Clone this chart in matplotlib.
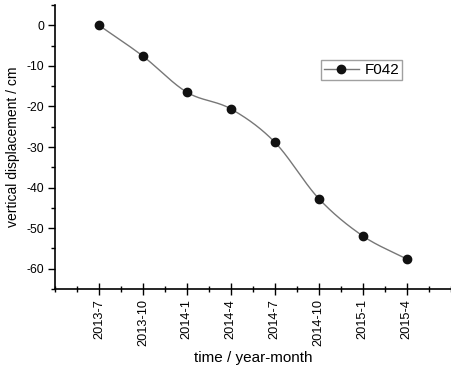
import numpy as np
import matplotlib
matplotlib.use("Agg")
import matplotlib.pyplot as plt
from matplotlib.ticker import MultipleLocator

plt.rcParams['font.family'] = ['Liberation Sans', 'DejaVu Sans']
plt.rcParams['axes.unicode_minus'] = False

months = ["2013-7", "2013-10", "2014-1", "2014-4", "2014-7", "2014-10", "2015-1", "2015-4"]
displacement = [0.0, -7.6, -16.5, -20.6, -28.8, -42.7, -51.9, -57.6]
series_name = "F042"


def cardinal_spline(x, y, n_per=60, tension=0.0):
    x = np.asarray(x, float); y = np.asarray(y, float)
    n = len(x)
    m = np.zeros(n)
    m[0] = (y[1] - y[0]) / (x[1] - x[0])
    m[-1] = (y[-1] - y[-2]) / (x[-1] - x[-2])
    for i in range(1, n - 1):
        m[i] = (1 - tension) * (y[i + 1] - y[i - 1]) / (x[i + 1] - x[i - 1])
    xs_all, ys_all = [], []
    for i in range(n - 1):
        h = x[i + 1] - x[i]
        t = np.linspace(0, 1, n_per)
        h00 = 2 * t ** 3 - 3 * t ** 2 + 1
        h10 = t ** 3 - 2 * t ** 2 + t
        h01 = -2 * t ** 3 + 3 * t ** 2
        h11 = t ** 3 - t ** 2
        xs_all.append(x[i] + t * h)
        ys_all.append(h00 * y[i] + h10 * h * m[i] + h01 * y[i + 1] + h11 * h * m[i + 1])
    return np.concatenate(xs_all), np.concatenate(ys_all)


fig = plt.figure(figsize=(4.51, 3.67), dpi=100)
ax = fig.add_axes([55 / 451, 1 - 289 / 367, 1 - 55 / 451 - 0.001, (289 - 5) / 367])

x = np.arange(len(months))
cx, cy = cardinal_spline(x, displacement)
ax.plot(cx, cy, color='#777777', lw=1.0, zorder=2)
ax.plot(x, displacement, 'o', color='#111111', ms=6, zorder=3)

# legend proxy
ax.plot([], [], '-o', color='#777777', mfc='#111111', mec='#111111', ms=6, lw=1.0, label=series_name)
leg = ax.legend(loc='upper left', bbox_to_anchor=(0.672, 0.806), frameon=True, fancybox=False,
                fontsize=11, handlelength=2.3, borderpad=0.2, handletextpad=0.35,
                borderaxespad=0.0)
leg.get_frame().set_edgecolor('#888888')
leg.get_frame().set_linewidth(1.0)

ax.set_xlim(-1, 8)
ax.set_ylim(-65, 5)
ax.set_xticks(x)
ax.set_xticklabels(months, rotation=90, fontsize=9.2)
ax.xaxis.set_minor_locator(MultipleLocator(0.5))
ax.yaxis.set_major_locator(MultipleLocator(10))
ax.yaxis.set_minor_locator(MultipleLocator(5))
ax.tick_params(axis='y', which='major', direction='out', length=5, labelsize=8.8, width=1, pad=3)
ax.tick_params(axis='y', which='minor', direction='out', length=3, width=1)
ax.tick_params(axis='x', which='major', direction='inout', length=8, width=1)
ax.tick_params(axis='x', which='minor', direction='inout', length=4, width=1)

for s in ['top', 'right']:
    ax.spines[s].set_visible(False)
for s in ['left', 'bottom']:
    ax.spines[s].set_linewidth(1.2)

ax.set_xlabel('time / year-month', fontsize=11, labelpad=3)
ax.set_ylabel('vertical displacement / cm', fontsize=10)
ax.yaxis.set_label_coords(-0.088, 0.5)

fig.savefig('out.png', dpi=100)
